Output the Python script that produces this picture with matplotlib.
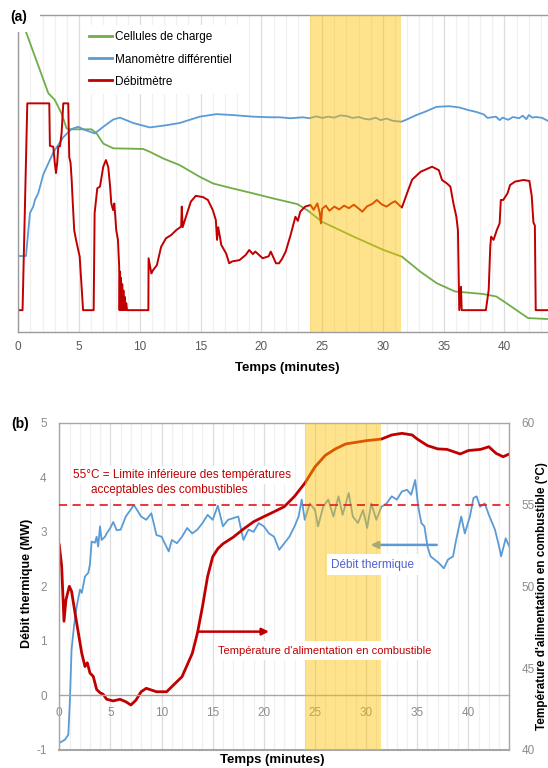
import matplotlib
matplotlib.use("Agg")
import matplotlib.pyplot as plt
from matplotlib.patches import Rectangle
import numpy as np

plt.rcParams['font.family'] = ['Liberation Sans', 'DejaVu Sans']
plt.rcParams['axes.unicode_minus'] = False

# ---------------- Panel (a) data (normalised 0-100 scale, no y axis) ----------------
t_green = [0, 0.63, 2.47, 3.0, 3.56, 3.97, 4.25, 6.03, 6.44, 6.99, 7.81, 10.27, 10.82, 11.92,
           13.28, 14.93, 16.03, 17.67, 19.3, 20.95, 22.95, 23.77, 25.0, 27.6, 30.05, 31.56,
           33.06, 34.43, 35.93, 38.25, 39.34, 40.16, 41.94, 43.58]
v_green = [101.5, 94.7, 75.3, 73.2, 68.9, 64.2, 63.9, 63.9, 62.6, 59.4, 57.9, 57.7, 56.8, 54.7,
           52.6, 48.9, 46.8, 45.2, 43.7, 42.1, 40.3, 38.4, 34.7, 30.0, 25.8, 23.7,
           19.0, 15.3, 12.7, 11.9, 11.1, 9.0, 4.3, 4.0]

t_blue_a = [0, 0.63, 0.96, 1.23, 1.37, 1.64, 2.06, 2.88, 3.7, 4.38, 4.93, 5.48, 6.3, 6.99, 7.81,
            8.36, 9.45, 10.82, 12.19, 13.28, 14.93, 16.3, 17.67, 19.3, 20.7, 21.5, 22.4, 23.4,
            23.95, 24.5, 25.0, 25.5, 26.0, 26.5, 27.0, 27.5, 28.0, 28.5, 28.9, 29.4, 29.8, 30.3,
            30.8, 31.5, 31.9, 32.74, 33.5, 34.4, 35.47, 36.3, 37.0, 37.67, 38.3, 38.6, 39.3,
            39.6, 39.85, 40.3, 40.7, 41.2, 41.5, 41.8, 42.0, 42.3, 42.6, 43.1, 43.56]
v_blue_a = [23.9, 23.9, 37.5, 39.5, 41.6, 43.7, 49.7, 56.6, 61.4, 64.0, 64.7, 63.7, 62.6, 64.7, 67.0,
            67.6, 65.9, 64.5, 65.2, 65.9, 67.9, 68.7, 68.4, 67.9, 67.7, 67.7, 67.4, 67.7,
            67.4, 68.0, 67.5, 67.9, 67.6, 68.3, 68.1, 67.5, 67.8, 67.2, 67.0, 67.6, 66.8, 67.3,
            66.6, 66.3, 66.9, 68.4, 69.5, 71.0, 71.2, 70.8, 70.0, 69.4, 68.6, 67.5, 67.9,
            66.8, 67.6, 66.9, 67.8, 67.4, 68.2, 67.1, 68.4, 67.6, 67.8, 67.5, 66.6]

t_red_a = [0, 0.35, 0.74, 2.55, 2.6, 2.88, 3.0, 3.1, 3.2, 3.29, 3.43, 3.56, 3.7, 4.11, 4.19, 4.3,
           4.39, 4.47, 4.6, 4.75, 5.05, 5.33, 6.2, 6.28, 6.5, 6.72, 6.99, 7.21, 7.4, 7.55, 7.65,
           7.8, 7.9, 8.06, 8.2, 8.3, 8.33, 8.37, 8.41, 8.45, 8.5, 8.55, 8.6, 8.65, 8.7, 8.76,
           8.82, 8.88, 8.95, 10.7, 10.72, 10.95, 11.1, 11.4, 11.75, 12.15, 12.57, 13.0, 13.4,
           13.45, 13.52, 13.8, 14.2, 14.6, 15.2, 15.6, 16.0, 16.25, 16.35, 16.45, 16.7, 17.1,
           17.35, 17.6, 18.2, 18.7, 19.0, 19.3, 19.5, 20.1, 20.6, 20.77, 21.2, 21.45, 21.7,
           22.0, 22.4, 22.8, 23.0, 23.2, 23.6, 24.04, 24.3, 24.6, 24.8, 24.9, 25.0, 25.3, 25.6,
           26.0, 26.4, 26.8, 27.2, 27.6, 28.0, 28.3, 28.7, 29.1, 29.5, 29.9, 30.3, 30.7, 31.0,
           31.3, 31.56, 32.0, 32.4, 33.1, 34.04, 34.6, 34.86, 35.27, 35.55, 35.8, 36.04, 36.17,
           36.28, 36.42, 36.48, 38.47, 38.7, 38.83, 38.9, 39.1, 39.37, 39.6, 39.7, 39.9, 40.25,
           40.46, 40.87, 41.56, 42.05, 42.24, 42.38, 42.5, 42.57, 43.58]
v_red_a = [6.8, 6.8, 72.1, 72.1, 58.7, 58.4, 53.3, 50.1, 53.3, 58.4, 58.6, 62.6, 72.1, 72.1, 55.2, 53.3,
           48.0, 41.6, 32.0, 29.0, 23.7, 6.8, 6.8, 37.5, 45.3, 45.8, 52.1, 54.2, 52.0, 46.0, 40.5,
           38.4, 40.5, 32.0, 29.0, 20.5, 6.8, 19.0, 6.8, 17.0, 6.8, 15.0, 6.8, 13.0, 6.8, 11.0,
           6.8, 9.0, 6.8, 6.8, 23.2, 18.4, 19.5, 21.0, 26.8, 29.5, 30.5, 32.1, 33.2,
           39.5, 33.0, 36.4, 41.1, 42.9, 42.5, 41.6, 38.4, 35.3, 29.0, 33.0, 27.4, 24.7,
           21.6, 22.2, 22.6, 24.2, 25.8, 24.5, 25.3, 23.2, 23.8, 25.3, 21.6, 21.6, 23.0,
           25.3, 30.5, 36.3, 35.0, 37.9, 39.5, 40.0, 38.5, 40.5, 37.5, 34.2, 38.8, 39.8, 38.2,
           39.5, 38.6, 39.8, 39.0, 40.1, 38.9, 37.9, 39.6, 40.3, 41.6, 40.2, 39.5, 40.6, 41.2,
           40.1, 39.2, 43.9, 48.0, 50.5, 52.1, 51.0, 47.9, 46.8, 45.8, 40.5, 36.3, 32.1,
           6.8, 14.2, 6.8, 6.8, 13.2, 26.8, 30.0, 29.0, 32.1, 34.2, 41.6, 41.6, 43.7,
           46.3, 47.4, 47.9, 47.6, 42.9, 34.5, 33.5, 6.8, 6.8]

labels_a = ["Cellules de charge", "Manomètre différentiel", "Débitmètre"]

# ---------------- Panel (b) data ----------------
t_heat = [0, 0.56, 0.88, 1.04, 1.2, 1.43, 1.7, 2.02, 2.2, 2.51, 2.84, 3.0, 3.16, 3.49, 3.65, 3.8,
          3.98, 4.14, 4.47, 4.63, 4.96, 5.28, 5.61, 6.0, 6.5, 7.3, 8.0, 8.5, 9.0, 9.5, 10.0, 10.7,
          11.0, 11.5, 12.0, 12.5, 13.0, 13.5, 14.0, 14.5, 15.0, 15.5, 16.0, 16.5, 17.0, 17.5,
          18.0, 18.5, 19.0, 19.5, 20.0, 20.5, 21.0, 21.5, 22.0, 22.5, 23.0, 23.4, 23.7, 24.0,
          24.5, 25.0, 25.3, 25.8, 26.3, 26.8, 27.3, 27.7, 28.3, 28.7, 29.2, 29.7, 30.1, 30.5,
          31.0, 31.5, 32.0, 32.5, 33.0, 33.5, 34.0, 34.4, 34.8, 35.1, 35.4, 35.7, 36.0, 36.3,
          36.7, 37.1, 37.6, 38.0, 38.5, 38.8, 39.3, 39.65, 40.15, 40.5, 40.8, 41.15, 41.6, 42.0,
          42.6, 43.0, 43.2, 43.65, 44.0]
mw_heat = [-0.87, -0.81, -0.72, -0.08, 0.84, 1.26, 1.63, 1.94, 1.88, 2.18, 2.25, 2.41, 2.82, 2.80, 2.91, 2.73,
           3.10, 2.85, 2.91, 2.97, 3.06, 3.18, 3.03, 3.04, 3.28, 3.49, 3.28, 3.22, 3.34, 2.94, 2.91, 2.64,
           2.85, 2.79, 2.91, 3.07, 2.97, 3.04, 3.16, 3.31, 3.22, 3.48, 3.10, 3.22, 3.25, 3.28,
           2.85, 3.04, 3.00, 3.16, 3.10, 2.97, 2.91, 2.67, 2.79, 2.91, 3.10, 3.28, 3.59, 3.22,
           3.52, 3.40, 3.10, 3.46, 3.59, 3.28, 3.65, 3.31, 3.71, 3.28, 3.16, 3.40, 3.07, 3.52,
           3.22, 3.46, 3.52, 3.65, 3.59, 3.74, 3.77, 3.68, 3.95, 3.46, 3.16, 3.10, 2.73, 2.55,
           2.49, 2.43, 2.33, 2.49, 2.55, 2.85, 3.28, 2.97, 3.28, 3.62, 3.65, 3.46, 3.52, 3.31,
           3.04, 2.73, 2.55, 2.88, 2.73]

t_temp = [0, 0.23, 0.46, 0.65, 0.98, 1.2, 1.53, 1.86, 2.19, 2.51, 2.74, 3.0, 3.32, 3.65, 3.98, 4.3,
          4.63, 5.28, 5.93, 6.5, 7.0, 7.5, 8.0, 8.5, 9.5, 10.5, 11.0, 12.0, 13.0, 13.5, 14.0, 14.5,
          15.0, 15.5, 16.0, 17.0, 18.0, 19.0, 20.0, 21.0, 22.0, 23.0, 24.0, 25.0, 26.0, 27.0, 28.0,
          29.0, 30.0, 31.5, 32.5, 33.5, 34.5, 35.0, 36.0, 37.0, 37.9, 39.2, 40.0, 41.2, 42.0, 42.7,
          43.4, 44.0]
c_temp = [52.53, 51.23, 47.87, 49.17, 50.0, 49.7, 48.4, 47.17, 45.93, 45.1, 45.33, 44.7, 44.5, 43.7, 43.5, 43.4,
          43.1, 43.0, 43.1, 42.95, 42.75, 43.05, 43.56, 43.77, 43.56, 43.56, 43.87, 44.48, 45.9, 47.13, 48.76, 50.6,
          51.81, 52.3, 52.6, 53.0, 53.5, 53.95, 54.26, 54.56, 54.87, 55.5, 56.3, 57.3, 58.0, 58.4, 58.7,
          58.8, 58.9, 59.0, 59.25, 59.35, 59.25, 59.0, 58.6, 58.4, 58.37, 58.09, 58.3, 58.37, 58.53, 58.13,
          57.92, 58.09]

limit_temp = 55
shade_start, shade_end = 24, 31.5

# ---------------- Figure ----------------
W, H = 548, 768
fig = plt.figure(figsize=(W / 100, H / 100), dpi=100)

def fx(px):
    return px / W

def fy(py):
    return 1 - py / H

RED = '#C00000'
BLUE = '#5B9BD5'
GREEN = '#70AD47'
SHADE = '#FFC000'
GRID_MINOR = '#F0F0F0'
GRID_MAJOR = '#DDDDDD'
SPINE = '#A6A6A6'

# ---------- Panel (a) ----------
axa = fig.add_axes([fx(18.3), fy(331.7), (548 - 18.3) / W, (331.7 - 15) / H])
axa.plot(t_green, v_green, color=GREEN, lw=1.3, label=labels_a[0], zorder=2)
axa.plot(t_blue_a, v_blue_a, color=BLUE, lw=1.3, label=labels_a[1], zorder=2)
axa.plot(t_red_a, v_red_a, color=RED, lw=1.4, label=labels_a[2], zorder=2)
axa.axvspan(shade_start, shade_end, color=SHADE, alpha=0.45, lw=0, zorder=3)
axa.set_xlim(0, 43.58)
axa.set_ylim(0, 100)
axa.set_xticks(np.arange(0, 41, 5))
axa.set_xticks(np.arange(0, 44, 1), minor=True)
axa.set_yticks([])
axa.grid(which='minor', axis='x', color=GRID_MINOR, lw=0.9)
axa.grid(which='major', axis='x', color=GRID_MAJOR, lw=0.9)
axa.set_axisbelow(True)
axa.tick_params(axis='x', which='both', length=0, pad=7, labelsize=8.5, labelcolor='#595959')
for s in ['left', 'bottom', 'top']:
    axa.spines[s].set_color('#9A9A9A')
    axa.spines[s].set_linewidth(1)
axa.spines['right'].set_visible(False)
axa.set_xlabel('Temps (minutes)', fontsize=9.5, fontweight='bold', color='black')
axa.xaxis.set_label_coords((287 - 18.3) / (548 - 18.3), -(368 - 331.7) / (331.7 - 15), transform=axa.transAxes)
axa.xaxis.label.set_va('center')

leg = axa.legend(loc='upper left', bbox_to_anchor=(fx(83), fy(25)), bbox_transform=fig.transFigure,
                 frameon=True, fancybox=False, edgecolor='none', facecolor='white', framealpha=1,
                 fontsize=8.5, handlelength=1.9, handletextpad=0.3, labelspacing=0.85,
                 borderpad=0.55, borderaxespad=0)
leg.get_frame().set_linewidth(0)
for line in leg.get_lines():
    line.set_linewidth(2)

# white corner box with panel label
fig.patches.append(Rectangle((0, fy(32)), fx(40), 1 - fy(32), transform=fig.transFigure,
                             facecolor='white', edgecolor='none', zorder=5))
fig.text(fx(19), fy(17), '(a)', fontsize=10, fontweight='bold', ha='center', va='center', zorder=6)

# ---------- Panel (b) ----------
axb = fig.add_axes([fx(59.3), fy(750), 450 / W, (750 - 422.7) / H])
axt = axb.twinx()
axt.set_ylim(40, 60)
axb.set_xlim(0, 44)
axb.set_ylim(-1, 5)

axb.plot(t_heat, mw_heat, color=BLUE, lw=1.3, zorder=2)
axb.plot(t_temp, c_temp, color=RED, lw=2.0, zorder=2, transform=axt.transData)
axb.axvspan(shade_start, shade_end, color=SHADE, alpha=0.45, lw=0, zorder=3)
axb.plot([0, 44], [limit_temp, limit_temp], color='#E8242B', lw=1.3, ls=(0, (4.5, 3)),
         zorder=3.5, transform=axt.transData)
axb.set_xlim(0, 44)
axb.set_ylim(-1, 5)

axb.set_xticks(np.arange(0, 41, 5))
axb.set_xticks(np.arange(0, 45, 1), minor=True)
axb.set_yticks(np.arange(-1, 6, 1))
axb.grid(which='minor', axis='x', color=GRID_MINOR, lw=0.9)
axb.grid(which='major', axis='x', color=GRID_MAJOR, lw=0.9)
axb.set_axisbelow(True)
axb.spines['bottom'].set_position(('data', 0))
for s in ['left', 'bottom', 'top', 'right']:
    axb.spines[s].set_color(SPINE)
    axb.spines[s].set_linewidth(1)
axb.axhline(-1, color=SPINE, lw=1.5, zorder=2.5, clip_on=False)
axb.tick_params(axis='x', which='both', length=0, pad=8, labelsize=8.5, labelcolor='#8C8C8C')
axb.tick_params(axis='y', length=0, pad=9, labelsize=8.5, labelcolor='#8C8C8C')

axt.set_yticks(np.arange(40, 61, 5))
axt.tick_params(axis='y', length=0, pad=9, labelsize=8.5, labelcolor='#8C8C8C')
for s in axt.spines.values():
    s.set_visible(False)

# annotations
axb.text(1.38, 4.04, '55°C = Limite inférieure des températures', color=RED, fontsize=8.5,
         ha='left', va='center', zorder=4,
         bbox=dict(facecolor='white', edgecolor='none', pad=2))
axb.text(3.09, 3.77, 'acceptables des combustibles', color=RED, fontsize=8.5,
         ha='left', va='center', zorder=4,
         bbox=dict(facecolor='white', edgecolor='none', pad=2))
axb.annotate('', xy=(20.5, 1.17), xytext=(13.6, 1.17),
             arrowprops=dict(arrowstyle='-|>', color=RED, lw=1.8, mutation_scale=10,
                             shrinkA=0, shrinkB=0), zorder=2.5)
axb.text(15.55, 0.82, "Température d'alimentation en combustible", color=RED, fontsize=8,
         ha='left', va='center', zorder=4,
         bbox=dict(facecolor='white', edgecolor='none', pad=3))
axb.annotate('', xy=(30.45, 2.76), xytext=(36.9, 2.76),
             arrowprops=dict(arrowstyle='-|>', color=BLUE, lw=1.8, mutation_scale=10,
                             shrinkA=0, shrinkB=0), zorder=2.5)
axb.text(30.6, 2.40, 'Débit thermique', color='#5060D0', fontsize=8.5,
         ha='center', va='center', zorder=4,
         bbox=dict(facecolor='white', edgecolor='none', pad=3))

fig.text(fx(272), fy(760), 'Temps (minutes)', fontsize=9.5, fontweight='bold', ha='center', va='center')
fig.text(fx(27), fy(583), 'Débit thermique (MW)', fontsize=9, fontweight='bold', rotation=90,
         ha='center', va='center')
fig.text(fx(542), fy(462), "Température d'alimentation en combustible (°C)", fontsize=8.5,
         fontweight='bold', rotation=90, ha='center', va='top')
fig.text(fx(20), fy(424), '(b)', fontsize=10, fontweight='bold', ha='center', va='center')

fig.savefig('out.png', dpi=100)
